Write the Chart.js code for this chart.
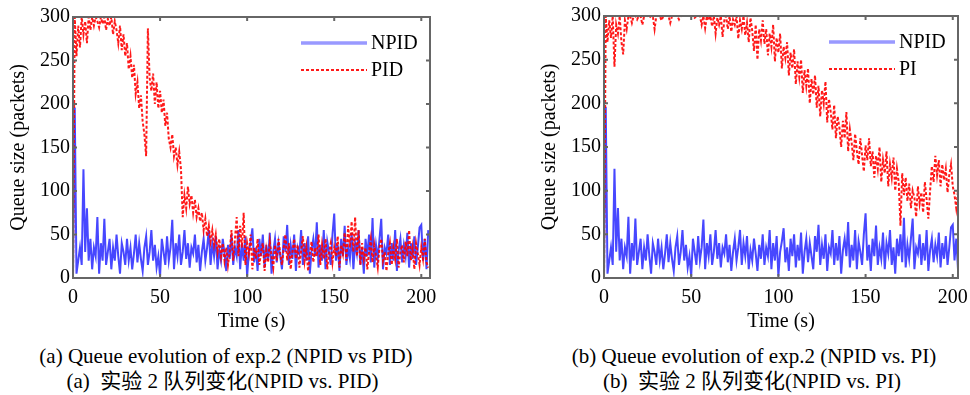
<!DOCTYPE html>
<html>
<head>
<meta charset="utf-8">
<script src="https://cdn.jsdelivr.net/npm/chart.js@4.4.0/dist/chart.umd.min.js"></script>
<style>
  body { margin: 0; background: #fff; width: 970px; height: 395px; position: relative; overflow: hidden;
         font-family: "Liberation Serif", "Noto Sans CJK SC", serif; }
  canvas { position: absolute; top: 0; }
  #chartA { left: 0; }
  #chartB { left: 530px; }
  .cap { position: absolute; text-align: center; font-size: 21px; line-height: 25px; white-space: pre; color: #000; }
</style>
</head>
<body>
<canvas id="chartA" width="440" height="340"></canvas>
<canvas id="chartB" width="440" height="340"></canvas>
<div class="cap" style="left:0;width:452px;top:344px">(a) Queue evolution of exp.2 (NPID vs PID)</div>
<div class="cap" style="left:0;width:445px;top:369px">(a)  实验 2 队列变化(NPID vs. PID)</div>
<div class="cap" style="left:536px;width:436px;top:344px">(b) Queue evolution of exp.2 (NPID vs. PI)</div>
<div class="cap" style="left:536px;width:432px;top:369px">(b)  实验 2 队列变化(NPID vs. PI)</div>
<script>
// one sample per second, t = 0 .. 204 s
const sampleStep = 1;

// NPID queue (same run shown in both panels)
const npidQueue = [
    0, 196, 5, 20, 35, 15, 125, 30, 80, 20,
    45, 10, 35, 25, 70, 5, 40, 20, 68, 15,
    30, 45, 10, 35, 20, 50, 25, 5, 40, 30,
    15, 45, 20, 35, 10, 28, 50, 18, 40, 22,
    8, 35, 48, 15, 30, 55, 20, 38, 12, 25,
    2, 45, 30, 15, 48, 20, 35, 67, 10, 40,
    25, 50, 15, 30, 55, 22, 40, 12, 35, 28,
    50, 18, 38, 8, 30, 45, 20, 35, 55, 15,
    40, 25, 48, 10, 32, 20, 45, 28, 8, 38,
    22, 50, 15, 35, 25, 55, 10, 40, 20, 48,
    2, 30, 42, 57, 18, 35, 8, 45, 25, 50,
    12, 38, 20, 52, 5, 30, 45, 18, 40, 25,
    10, 48, 30, 61, 15, 38, 22, 50, 8, 35,
    28, 55, 15, 40, 20, 48, 5, 32, 45, 25,
    64, 12, 38, 20, 55, 10, 42, 30, 15, 50,
    74, 20, 38, 8, 45, 25, 60, 15, 35, 22,
    52, 10, 40, 28, 55, 15, 35, 5, 45, 25,
    50, 18, 69, 12, 38, 22, 45, 68, 10, 35,
    28, 50, 15, 40, 20, 55, 8, 32, 45, 18,
    38, 25, 52, 12, 40, 22, 48, 15, 35, 58,
    61, 20, 45, 10, 55
];

// PID queue, panel (a)
const pidQueue = [
    0, 300, 255, 290, 265, 300, 280, 295, 270, 300,
    285, 300, 290, 300, 295, 288, 300, 292, 300, 285,
    298, 290, 300, 280, 295, 285, 270, 290, 262, 280,
    255, 270, 240, 255, 230, 245, 212, 225, 195, 210,
    180, 165, 140, 287, 230, 215, 235, 200, 225, 195,
    215, 190, 205, 175, 190, 160, 150, 165, 140, 150,
    130, 145, 125, 70, 95, 80, 105, 85, 95, 75,
    90, 70, 80, 65, 75, 55, 68, 48, 60, 42,
    55, 38, 50, 30, 45, 25, 40, 20, 35, 15,
    30, 55, 20, 45, 70, 25, 60, 35, 75, 15,
    40, 28, 50, 10, 35, 22, 45, 15, 30, 40,
    8, 32, 18, 42, 25, 12, 38, 20, 45, 28,
    15, 35, 50, 20, 40, 10, 30, 45, 22, 38,
    12, 32, 48, 20, 35, 8, 28, 42, 18, 35,
    25, 50, 15, 38, 22, 45, 10, 30, 40, 18,
    35, 25, 48, 12, 38, 28, 52, 20, 60, 35,
    65, 30, 70, 25, 55, 15, 40, 22, 35, 10,
    30, 45, 18, 38, 25, 12, 35, 45, 20, 30,
    8, 28, 40, 15, 35, 22, 45, 12, 30, 38,
    18, 42, 25, 55, 20, 35, 10, 40, 28, 15,
    35, 22, 45, 18, 12
];

// PI queue, panel (b)
const piQueue = [
    0, 300, 270, 295, 275, 300, 242, 290, 280, 300,
    270, 256, 295, 285, 300, 300, 292, 300, 300, 296,
    300, 300, 290, 300, 300, 300, 298, 300, 300, 285,
    300, 300, 300, 295, 300, 300, 300, 300, 292, 300,
    300, 300, 300, 296, 300, 300, 300, 300, 300, 300,
    300, 300, 298, 300, 300, 300, 290, 300, 286, 300,
    295, 300, 288, 300, 280, 298, 290, 300, 276, 295,
    300, 285, 300, 282, 296, 290, 300, 274, 295, 285,
    300, 278, 292, 270, 298, 283, 260, 290, 250, 285,
    272, 295, 268, 285, 255, 280, 265, 290, 248, 275,
    258, 280, 240, 265, 252, 270, 232, 258, 240, 262,
    222, 248, 230, 250, 212, 238, 220, 240, 200, 228,
    210, 232, 195, 220, 185, 215, 200, 225, 178, 205,
    190, 170, 198, 160, 185, 172, 150, 180, 160, 190,
    145, 170, 155, 135, 165, 145, 130, 160, 140, 122,
    152, 135, 160, 128, 145, 115, 140, 125, 150, 110,
    135, 120, 145, 105, 130, 115, 138, 100, 125, 110,
    60, 120, 95, 115, 88, 108, 80, 100, 92, 70,
    105, 85, 98, 75, 110, 90, 68, 100, 128, 110,
    140, 118, 135, 105, 130, 112, 125, 98, 118, 130,
    105, 95, 80, 100, 78
];

const xTicksStep = 50;
const yTicksStep = 50;

const serif = 'Liberation Serif';
const blue = 'rgba(0, 0, 255, 0.72)';
const blueLegend = 'rgba(70, 70, 255, 0.55)';
const red = 'rgba(255, 0, 0, 0.9)';

function toPoints(values) {
    return values.map((v, i) => ({ x: i * sampleStep, y: v }));
}

// frame box, inward tick marks and the legend drawn inside the plot
const frameAndLegend = {
    id: 'frameAndLegend',
    afterDatasetsDraw(chart) {
        const { ctx, chartArea: a, scales } = chart;
        ctx.save();
        ctx.strokeStyle = '#666';
        ctx.lineWidth = 2;
        ctx.setLineDash([]);
        ctx.strokeRect(a.left, a.top, a.right - a.left, a.bottom - a.top);

        ctx.beginPath();
        scales.x.ticks.forEach(t => {
            const px = scales.x.getPixelForValue(t.value);
            ctx.moveTo(px, a.bottom); ctx.lineTo(px, a.bottom - 4);
            ctx.moveTo(px, a.top); ctx.lineTo(px, a.top + 4);
        });
        scales.y.ticks.forEach(t => {
            const py = scales.y.getPixelForValue(t.value);
            ctx.moveTo(a.left, py); ctx.lineTo(a.left + 4, py);
            ctx.moveTo(a.right, py); ctx.lineTo(a.right - 4, py);
        });
        ctx.stroke();

        ctx.font = '20px "' + serif + '"';
        ctx.fillStyle = '#000';
        ctx.textBaseline = 'middle';
        chart.data.datasets.forEach((ds, i) => {
            const y = a.top + 26 + i * 27;
            ctx.beginPath();
            ctx.strokeStyle = ds.legendColor || ds.borderColor;
            ctx.lineWidth = ds.borderDash ? 2 : 3.5;
            ctx.setLineDash(ds.borderDash || []);
            ctx.moveTo(a.right - 129, y);
            ctx.lineTo(a.right - 63, y);
            ctx.stroke();
            ctx.fillText(ds.label, a.right - 59, y + 1);
        });
        ctx.restore();
    }
};

function makeChart(id, otherLabel, otherValues, xMax, pad) {
    const ctx = document.getElementById(id).getContext('2d');
    return new Chart(ctx, {
        type: 'line',
        data: {
            datasets: [
                {
                    label: 'NPID',
                    data: toPoints(npidQueue),
                    borderColor: blue,
                    legendColor: blueLegend,
                    borderWidth: 2,
                    pointRadius: 0,
                    order: 2
                },
                {
                    label: otherLabel,
                    data: toPoints(otherValues),
                    borderColor: red,
                    borderWidth: 2,
                    borderDash: [3, 2],
                    pointRadius: 0,
                    order: 1
                }
            ]
        },
        options: {
            responsive: false,
            animation: false,
            devicePixelRatio: 1,
            layout: { padding: pad },
            plugins: { legend: { display: false }, tooltip: { enabled: false } },
            scales: {
                x: {
                    type: 'linear',
                    min: 0,
                    max: xMax,
                    grid: { display: false, drawTicks: false },
                    border: { display: false },
                    ticks: { stepSize: xTicksStep, includeBounds: false, padding: 8, color: '#000',
                             font: { family: serif, size: 20 } },
                    title: { display: true, text: 'Time (s)', color: '#000',
                             font: { family: serif, size: 20 }, padding: { top: 0, bottom: 6 } },
                    afterFit(s) { s.height = 62; s.paddingLeft = 0; s.paddingRight = 0; }
                },
                y: {
                    min: 0,
                    max: 300,
                    grid: { display: false, drawTicks: false },
                    border: { display: false },
                    ticks: { stepSize: yTicksStep, padding: 3, color: '#000',
                             font: { family: serif, size: 20 } },
                    title: { display: true, text: 'Queue size (packets)', color: '#000',
                             font: { family: serif, size: 20 }, padding: { top: 7, bottom: 0 } },
                    afterFit(s) { s.width = 73; s.paddingTop = 0; s.paddingBottom = 0; }
                }
            }
        },
        plugins: [frameAndLegend]
    });
}

makeChart('chartA', 'PID', pidQueue, 205, { top: 17, right: 10, left: 0, bottom: 0 });
makeChart('chartB', 'PI', piQueue, 203, { top: 16, right: 12, left: 1, bottom: 0 });
</script>
</body>
</html>
